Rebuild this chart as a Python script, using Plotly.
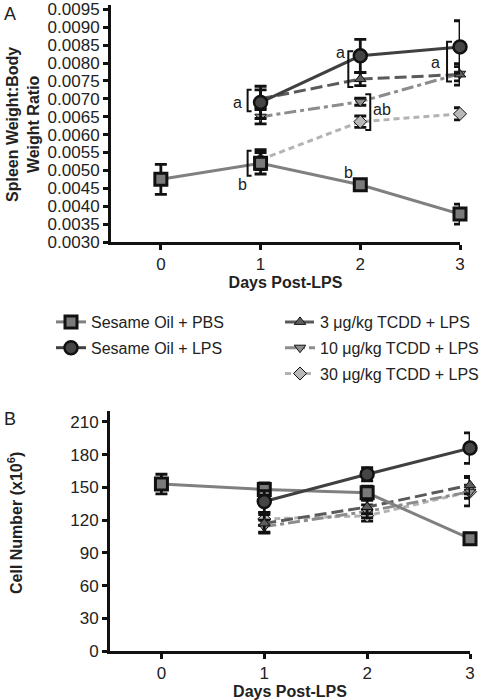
import plotly.graph_objects as go

nan = None
days = [0, 1, 2, 3]
x_ticks = [0, 1, 2, 3]

# Panel A: spleen weight : body weight ratio
A_pbs = [0.00475, 0.0052, 0.0046, 0.00378]
A_pbs_err = [0.00042, 0.0003, 0.00006, 0.00028]
A_lps = [nan, 0.0069, 0.0082, 0.00845]
A_lps_err = [nan, 0.00045, 0.00046, 0.00073]
A_t3 = [nan, 0.0070, 0.00755, 0.00768]
A_t3_err = [nan, 0.00025, 0.00018, 0.0003]
A_t10 = [nan, 0.0065, 0.00692, 0.00770]
A_t10_err = [nan, 0.0002, 0.0001, 0.0002]
A_t30 = [nan, 0.0053, 0.00636, 0.00658]
A_t30_err = [nan, 0.00028, 0.00016, 0.00017]
A_yticks = [0.0030, 0.0035, 0.0040, 0.0045, 0.0050, 0.0055, 0.0060, 0.0065,
            0.0070, 0.0075, 0.0080, 0.0085, 0.0090, 0.0095]

# Panel B: cell number (x10^6)
B_pbs = [153, 148, 145, 103]
B_pbs_err = [9, 6, 6, 5]
B_lps = [nan, 137, 162, 186]
B_lps_err = [nan, 10, 6, 14]
B_t3 = [nan, 117, 132, 152]
B_t3_err = [nan, 8, 6, 8]
B_t10 = [nan, 114, 128, 146]
B_t10_err = [nan, 6, 6, 13]
B_t30 = [nan, 121, 124, 146]
B_t30_err = [nan, 6, 5, 6]
B_yticks = [0, 30, 60, 90, 120, 150, 180, 210]

names = ["Sesame Oil + PBS", "Sesame Oil + LPS", "3 \u03bcg/kg TCDD + LPS",
         "10 \u03bcg/kg TCDD + LPS", "30 \u03bcg/kg TCDD + LPS"]
styles = [
    dict(color="#808080", dash="solid", symbol="square", fill="#7a7a7a", size=12, lw=3),
    dict(color="#404040", dash="solid", symbol="circle", fill="#454545", size=13, lw=2.5),
    dict(color="#5a5a5a", dash="12px,5px", symbol="triangle-up", fill="#5e5e5e", size=10, lw=1),
    dict(color="#8c8c8c", dash="12px,4px,4px,4px", symbol="triangle-down", fill="#8f8f8f", size=10, lw=1),
    dict(color="#b3b3b3", dash="6px,4px", symbol="diamond", fill="#b8b8b8", size=10, lw=1),
]

fig = go.Figure()

A_sets = [(A_pbs, A_pbs_err), (A_lps, A_lps_err), (A_t3, A_t3_err), (A_t10, A_t10_err), (A_t30, A_t30_err)]
B_sets = [(B_pbs, B_pbs_err), (B_lps, B_lps_err), (B_t3, B_t3_err), (B_t10, B_t10_err), (B_t30, B_t30_err)]

order = [4, 3, 2, 0, 1]
for i in order:
    s = styles[i]
    y, e = A_sets[i]
    fig.add_trace(go.Scatter(
        x=days, y=y, name=names[i], mode="lines+markers",
        line=dict(color=s["color"], dash=s["dash"], width=3),
        marker=dict(symbol=s["symbol"], size=s["size"], color=s["fill"],
                    line=dict(color="#111111", width=s["lw"])),
        error_y=dict(type="data", array=e, color="#111111", thickness=2.8, width=6),
        xaxis="x", yaxis="y", cliponaxis=False, legendrank=i + 1,
        legend="legend" if i < 2 else "legend2", legendgroup=str(i),
    ))
for i in order:
    s = styles[i]
    y, e = B_sets[i]
    fig.add_trace(go.Scatter(
        x=days, y=y, name=names[i], mode="lines+markers", showlegend=False,
        line=dict(color=s["color"], dash=s["dash"], width=3),
        marker=dict(symbol=s["symbol"], size=s["size"], color=s["fill"],
                    line=dict(color="#111111", width=s["lw"])),
        error_y=dict(type="data", array=e, color="#111111", thickness=2.8, width=6),
        xaxis="x2", yaxis="y2", cliponaxis=False,
    ))

W, H = 486, 700
def px(v):
    return v / W
def py(v):
    return 1 - v / H

axis_common = dict(showline=True, linecolor="#111111", linewidth=3, ticks="outside",
                   ticklen=5, tickwidth=2.5, tickcolor="#111111", showgrid=False,
                   zeroline=False, automargin=False,
                   tickfont=dict(family="Liberation Sans", size=17, color="#222222"))

font_b = dict(family="Liberation Sans", size=16, color="#222222")

fig.update_layout(
    width=W, height=H, margin=dict(l=0, r=0, t=0, b=0, autoexpand=False),
    paper_bgcolor="white", plot_bgcolor="white",
    font=dict(family="Liberation Sans", size=16, color="#222222"),
    xaxis=dict(domain=[px(111), px(460)], range=[-0.5, 3], tickvals=x_ticks,
               anchor="y", tickformat="d", **axis_common,
               title=dict(text="<b>Days Post-LPS</b>", font=font_b, standoff=2)),
    yaxis=dict(domain=[py(242), py(5)], range=[0.0030, 0.00962], tickvals=A_yticks,
               tickformat=".4f", anchor="x", **axis_common),
    xaxis2=dict(domain=[px(110), px(470)], range=[-0.5, 3], tickvals=x_ticks,
                anchor="y2", tickformat="d", **axis_common,
                title=dict(text="<b>Days Post-LPS</b>", font=font_b, standoff=5)),
    yaxis2=dict(domain=[py(651), py(411)], range=[0, 220], tickvals=B_yticks,
                anchor="x2", **axis_common),
    legend=dict(x=px(51), y=py(305), xanchor="left", yanchor="top",
                font=dict(family="Liberation Sans", size=16, color="#222222"),
                tracegroupgap=2, itemwidth=30, bgcolor="rgba(0,0,0,0)", traceorder="grouped"),
    legend2=dict(x=px(280), y=py(305), xanchor="left", yanchor="top",
                 font=dict(family="Liberation Sans", size=16, color="#222222"),
                 tracegroupgap=2, itemwidth=30, bgcolor="rgba(0,0,0,0)", traceorder="grouped"),
)

fig.update_xaxes(tickprefix="<b>", ticksuffix="</b>")
fig.update_yaxes(tickprefix="<b>", ticksuffix="</b>")

anns = [
    dict(text="A", x=px(2), y=py(2), xref="paper", yref="paper", xanchor="left", yanchor="top",
         showarrow=False, font=dict(family="Liberation Sans", size=18, color="#222222")),
    dict(text="B", x=px(2), y=py(407), xref="paper", yref="paper", xanchor="left", yanchor="top",
         showarrow=False, font=dict(family="Liberation Sans", size=18, color="#222222")),
    dict(text="<b>Spleen Weight:Body<br>Weight Ratio</b>", x=px(23), y=py(125), xref="paper", yref="paper",
         textangle=-90, xanchor="center", yanchor="middle", showarrow=False,
         font=dict(family="Liberation Sans", size=16, color="#222222")),
    dict(text="<b>Cell Number (x10<sup>6</sup>)</b>", x=px(15), y=py(523), xref="paper", yref="paper",
         textangle=-90, xanchor="center", yanchor="middle", showarrow=False,
         font=dict(family="Liberation Sans", size=16, color="#222222")),
]
letters = [("a", 0.77, 0.0069), ("b", 0.82, 0.0046), ("a", 1.80, 0.0083), ("ab", 2.22, 0.0067),
           ("b", 1.88, 0.00495), ("a", 2.75, 0.0080), ("ab", 3.18, 0.00635), ("b", 3.15, 0.0039)]
for t, xx, yy in letters:
    anns.append(dict(text=t, x=xx, y=yy, xref="x", yref="y", showarrow=False,
                     font=dict(family="Liberation Sans", size=16, color="#222222")))
fig.update_layout(annotations=anns)

brackets = [  # (x_spine, x_end, y_top, y_bottom)
    (0.87, 0.91, 0.00725, 0.00665),
    (0.87, 0.91, 0.00555, 0.00485),
    (1.88, 1.93, 0.00833, 0.00733),
    (2.10, 2.05, 0.00713, 0.00613),
    (2.87, 2.92, 0.00859, 0.00748),
]
shapes = []
for xs, xe, yt, yb in brackets:
    shapes.append(dict(type="path", xref="x", yref="y",
                       path=f"M {xe},{yt} L {xs},{yt} L {xs},{yb} L {xe},{yb}",
                       line=dict(color="#111111", width=2)))
fig.update_layout(shapes=shapes)

# remove the browser's default 8px body margin so the figure sits at the page origin
fig.write_html("out.html", config={"displayModeBar": False},
               post_script="document.body.style.margin='0px';")
